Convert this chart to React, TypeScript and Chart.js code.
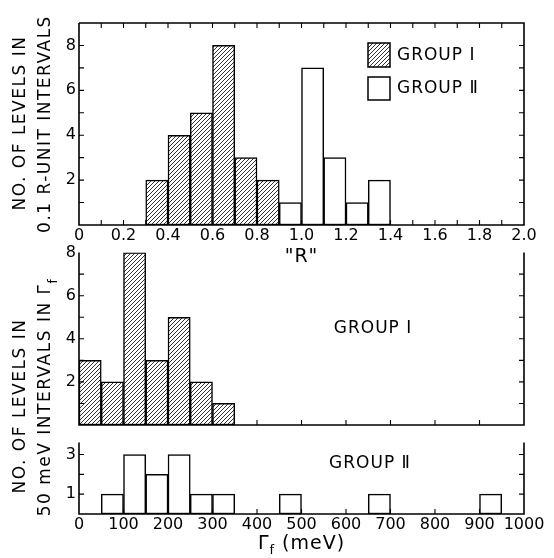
import React, { useEffect, useRef } from 'react';
import { Chart, registerables } from 'chart.js';

Chart.register(...registerables);

// ---------- data ----------
// Top panel: distribution of "R" in 0.1 R-unit bins
const rBinWidth = 0.1;
const rBinStartsGroup1 = [0.3, 0.4, 0.5, 0.6, 0.7, 0.8];
const rCountsGroup1 = [2, 4, 5, 8, 3, 2];
const rBinStartsGroup2 = [0.9, 1.0, 1.1, 1.2, 1.3];
const rCountsGroup2 = [1, 7, 3, 1, 2];
const rYLabelValues = [2, 4, 6, 8];

// Lower panels: distribution of Γf (meV) in 50 meV bins
const gBinWidth = 50;
const gBinStartsGroup1 = [0, 50, 100, 150, 200, 250, 300];
const gCountsGroup1 = [3, 2, 8, 3, 5, 2, 1];
const gBinStartsGroup2 = [50, 100, 150, 200, 250, 300, 450, 650, 900];
const gCountsGroup2 = [1, 3, 2, 3, 1, 1, 1, 1, 1];
const gMidYLabelValues = [2, 4, 6, 8];
const gBotYLabelValues = [1, 3];

const seriesNames = ['GROUP Ⅰ', 'GROUP Ⅱ'];

const FONT = "'DejaVu Sans', 'Liberation Sans', sans-serif";
Chart.defaults.font.family = FONT;
Chart.defaults.font.size = 16;
Chart.defaults.color = '#000';

function bins(starts: number[], counts: number[], width: number) {
  return starts.map((s, i) => ({ x: s + width / 2, y: counts[i] }));
}

function makeHatch(ctx0: CanvasRenderingContext2D): CanvasPattern | string {
  const c = document.createElement('canvas');
  c.width = 4;
  c.height = 4;
  const g = c.getContext('2d')!;
  g.fillStyle = '#fff';
  g.fillRect(0, 0, 4, 4);
  g.strokeStyle = '#000';
  g.lineWidth = 0.8;
  g.beginPath();
  g.moveTo(0, 4);
  g.lineTo(4, 0);
  g.moveTo(-1, 1);
  g.lineTo(1, -1);
  g.moveTo(3, 5);
  g.lineTo(5, 3);
  g.stroke();
  return ctx0.createPattern(c, 'repeat') || '#888';
}

// frame + inward tick marks
const framePlugin = {
  id: 'frame',
  afterDatasetsDraw(chart: any, _args: any, opts: any) {
    const { ctx, chartArea } = chart;
    const { left, right, top, bottom } = chartArea;
    const x = chart.scales.x;
    const y = chart.scales.y;
    ctx.save();
    ctx.strokeStyle = '#000';
    ctx.lineWidth = 1.6;
    ctx.beginPath();
    ctx.moveTo(left, top);
    ctx.lineTo(left, bottom);
    ctx.lineTo(right, bottom);
    ctx.lineTo(right, top);
    if (opts.topLine) ctx.lineTo(left, top);
    ctx.stroke();
    ctx.lineWidth = 1.1;
    ctx.beginPath();
    const nx = Math.round((x.max - x.min) / opts.xStep);
    for (let i = 1; i < nx; i++) {
      const px = x.getPixelForValue(x.min + i * opts.xStep);
      ctx.moveTo(px, bottom);
      ctx.lineTo(px, bottom - 5);
      if (opts.topLine) {
        ctx.moveTo(px, top);
        ctx.lineTo(px, top + 5);
      }
    }
    for (let v = opts.yStep; v < y.max - 1e-6; v += opts.yStep) {
      const py = y.getPixelForValue(v);
      ctx.moveTo(left, py);
      ctx.lineTo(left + 5, py);
      ctx.moveTo(right, py);
      ctx.lineTo(right - 5, py);
    }
    ctx.stroke();
    ctx.restore();
  },
};

function drawSpaced(ctx: CanvasRenderingContext2D, text: string, x: number, y: number, font: string, spacing: number, align: 'left' | 'center') {
  ctx.save();
  ctx.font = font;
  (ctx as any).letterSpacing = spacing + 'px';
  ctx.textAlign = align;
  ctx.textBaseline = 'middle';
  ctx.fillStyle = '#000';
  ctx.fillText(text, x, y);
  ctx.restore();
}

// rotated text (reading bottom-to-top); optional subscript appended
function drawVertical(ctx: CanvasRenderingContext2D, text: string, sub: string, cx: number, cy: number, size: number, spacing: number) {
  ctx.save();
  ctx.translate(cx, cy);
  ctx.rotate(-Math.PI / 2);
  ctx.fillStyle = '#000';
  ctx.textBaseline = 'middle';
  ctx.textAlign = 'left';
  ctx.font = `${size}px ${FONT}`;
  (ctx as any).letterSpacing = spacing + 'px';
  const w1 = ctx.measureText(text).width;
  let w2 = 0;
  const subFont = `${Math.round(size * 0.7)}px ${FONT}`;
  if (sub) {
    ctx.font = subFont;
    w2 = ctx.measureText(sub).width;
  }
  const start = -(w1 + w2) / 2;
  ctx.font = `${size}px ${FONT}`;
  ctx.fillText(text, start, 0);
  if (sub) {
    ctx.font = subFont;
    ctx.fillText(sub, start + w1, size * 0.45);
  }
  ctx.restore();
}

function legendBox(ctx: CanvasRenderingContext2D, x: number, y: number, w: number, h: number, fill: any) {
  ctx.save();
  ctx.fillStyle = fill;
  ctx.fillRect(x, y, w, h);
  ctx.strokeStyle = '#000';
  ctx.lineWidth = 1.5;
  ctx.strokeRect(x, y, w, h);
  ctx.restore();
}

function barDataset(label: string, data: any[], fill: any) {
  return {
    label,
    data,
    backgroundColor: fill,
    borderColor: '#000',
    borderWidth: 1.5,
    borderSkipped: false,
    barPercentage: 1,
    categoryPercentage: 1,
    grouped: false,
  };
}

function yLabelCb(values: number[]) {
  return (v: any) => (values.includes(Number(v)) ? String(v) : '');
}

export default function App() {
  const topRef = useRef<HTMLCanvasElement>(null);
  const midRef = useRef<HTMLCanvasElement>(null);
  const botRef = useRef<HTMLCanvasElement>(null);

  useEffect(() => {
    const hatch = makeHatch(topRef.current!.getContext('2d')!);
    const hatchMid = makeHatch(midRef.current!.getContext('2d')!);

    const topChart = new Chart(topRef.current!, {
      type: 'bar',
      data: {
        datasets: [
          barDataset(seriesNames[0], bins(rBinStartsGroup1, rCountsGroup1, rBinWidth), hatch),
          barDataset(seriesNames[1], bins(rBinStartsGroup2, rCountsGroup2, rBinWidth), '#fff'),
        ] as any,
      },
      options: {
        responsive: false,
        animation: false,
        events: [],
        layout: { padding: { top: 23, right: 30, bottom: 25, left: 0 } },
        plugins: {
          legend: { display: false },
          tooltip: { enabled: false },
          frame: { topLine: true, xStep: 0.1, yStep: 1 },
        } as any,
        scales: {
          x: {
            type: 'linear',
            min: 0,
            max: 2,
            offset: false,
            grid: { display: false, drawTicks: false },
            border: { display: false },
            ticks: {
              stepSize: 0.2,
              autoSkip: false,
              maxRotation: 0,
              padding: 1,
              callback: (v: any) => (Number(v) === 0 ? '0' : Number(v).toFixed(1)),
            },
            afterFit: (s: any) => {
              s.height = 20;
            },
          },
          y: {
            min: 0,
            max: 9,
            grid: { display: false, drawTicks: false },
            border: { display: false },
            ticks: { stepSize: 1, padding: 3, callback: yLabelCb(rYLabelValues) },
            afterFit: (s: any) => {
              s.width = 79;
            },
          },
        } as any,
      },
      plugins: [
        framePlugin,
        {
          id: 'topText',
          afterDraw(chart: any) {
            const ctx = chart.ctx as CanvasRenderingContext2D;
            drawVertical(ctx, 'NO. OF LEVELS IN', '', 21, 123, 17, 1.5);
            drawVertical(ctx, '0.1 R-UNIT INTERVALS', '', 46, 124, 17, 1.5);
            const xs = chart.scales.x;
            drawSpaced(ctx, '"R"', xs.getPixelForValue(1.0), 257, `19px ${FONT}`, 1, 'center');
            legendBox(ctx, 368, 43, 22, 24, hatch);
            drawSpaced(ctx, seriesNames[0], 397, 56, `17px ${FONT}`, 1, 'left');
            legendBox(ctx, 368, 77, 22, 23, '#fff');
            drawSpaced(ctx, seriesNames[1], 397, 89, `17px ${FONT}`, 1, 'left');
          },
        },
      ],
    } as any);

    const midChart = new Chart(midRef.current!, {
      type: 'bar',
      data: {
        datasets: [barDataset(seriesNames[0], bins(gBinStartsGroup1, gCountsGroup1, gBinWidth), hatchMid)] as any,
      },
      options: {
        responsive: false,
        animation: false,
        events: [],
        layout: { padding: { top: 6, right: 30, bottom: 133, left: 0 } },
        plugins: {
          legend: { display: false },
          tooltip: { enabled: false },
          frame: { topLine: false, xStep: 100, yStep: 1 },
        } as any,
        scales: {
          x: {
            type: 'linear',
            min: 0,
            max: 1000,
            offset: false,
            display: false,
            ticks: { stepSize: 100 },
          },
          y: {
            min: 0,
            max: 8,
            grid: { display: false, drawTicks: false },
            border: { display: false },
            ticks: { stepSize: 1, padding: 3, callback: yLabelCb(gMidYLabelValues) },
            afterFit: (s: any) => {
              s.width = 79;
            },
          },
        } as any,
      },
      plugins: [
        framePlugin,
        {
          id: 'midText',
          afterDraw(chart: any) {
            const ctx = chart.ctx as CanvasRenderingContext2D;
            drawVertical(ctx, 'NO. OF LEVELS IN', '', 21, 166, 17, 1.5);
            drawVertical(ctx, '50 meV INTERVALS IN Γ', 'f', 46, 157, 17, 1.5);
            drawSpaced(ctx, seriesNames[0], 373, 89, `17px ${FONT}`, 1, 'center');
          },
        },
      ],
    } as any);

    const botChart = new Chart(botRef.current!, {
      type: 'bar',
      data: {
        datasets: [barDataset(seriesNames[1], bins(gBinStartsGroup2, gCountsGroup2, gBinWidth), '#fff')] as any,
      },
      options: {
        responsive: false,
        animation: false,
        events: [],
        layout: { padding: { top: 5, right: 30, bottom: 24, left: 0 } },
        plugins: {
          legend: { display: false },
          tooltip: { enabled: false },
          frame: { topLine: false, xStep: 100, yStep: 1 },
        } as any,
        scales: {
          x: {
            type: 'linear',
            min: 0,
            max: 1000,
            offset: false,
            grid: { display: false, drawTicks: false },
            border: { display: false },
            ticks: {
              stepSize: 100,
              autoSkip: false,
              maxRotation: 0,
              padding: 1,
              callback: (v: any) => String(v),
            },
            afterFit: (s: any) => {
              s.height = 20;
            },
          },
          y: {
            min: 0,
            max: 3.6,
            grid: { display: false, drawTicks: false },
            border: { display: false },
            ticks: { stepSize: 1, includeBounds: false, padding: 3, callback: yLabelCb(gBotYLabelValues) },
            afterFit: (s: any) => {
              s.width = 79;
            },
          },
        } as any,
      },
      plugins: [
        framePlugin,
        {
          id: 'botText',
          afterDraw(chart: any) {
            const ctx = chart.ctx as CanvasRenderingContext2D;
            drawSpaced(ctx, seriesNames[1], 370, 34, `17px ${FONT}`, 1, 'center');
            // x-axis title: Γf (meV)
            ctx.save();
            ctx.fillStyle = '#000';
            ctx.textBaseline = 'alphabetic';
            ctx.textAlign = 'left';
            (ctx as any).letterSpacing = '1px';
            const big = `19px ${FONT}`;
            const small = `13px ${FONT}`;
            ctx.font = big;
            const wG = ctx.measureText('Γ').width;
            const wRest = ctx.measureText(' (meV)').width;
            ctx.font = small;
            const wf = ctx.measureText('f').width;
            const cx = chart.scales.x.getPixelForValue(500);
            const sx = cx - (wG + wf + wRest) / 2;
            const base = 119;
            ctx.font = big;
            ctx.fillText('Γ', sx, base);
            ctx.font = small;
            ctx.fillText('f', sx + wG, base + 5);
            ctx.font = big;
            ctx.fillText(' (meV)', sx + wG + wf, base);
            ctx.restore();
          },
        },
      ],
    } as any);

    return () => {
      topChart.destroy();
      midChart.destroy();
      botChart.destroy();
    };
  }, []);

  return (
    <div style={{ position: 'fixed', left: 0, top: 0, width: 554, height: 558, background: '#fff' }}>
      <canvas ref={topRef} width={554} height={270} style={{ position: 'absolute', left: 0, top: 0 }} />
      <canvas ref={midRef} width={554} height={318} style={{ position: 'absolute', left: 0, top: 240 }} />
      <canvas ref={botRef} width={554} height={128} style={{ position: 'absolute', left: 0, top: 430 }} />
    </div>
  );
}
